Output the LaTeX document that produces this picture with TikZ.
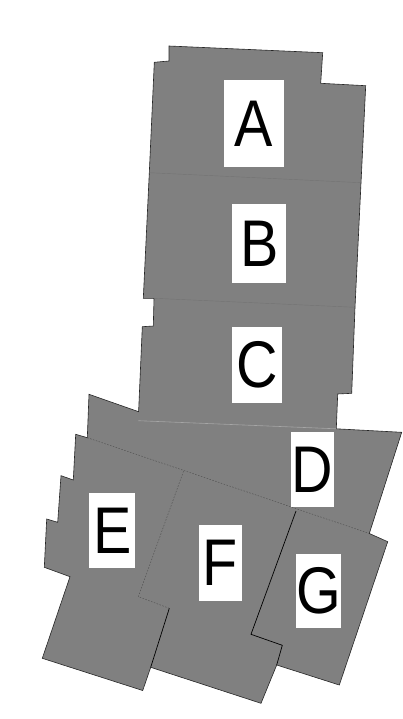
\documentclass[tikz,border=0pt]{standalone}
\usepackage{fontspec}
\setmainfont{Liberation Sans}
\begin{document}
\begin{tikzpicture}[x=1pt,y=-1pt,
  region/.style={fill=gray, draw=black!85, line width=0.6pt, line join=miter},
  seam/.style={draw=black!55, line width=0.4pt},
  lightseam/.style={draw=gray!70!white, line width=0.6pt},
  dashseam/.style={draw=black!70, line width=0.4pt, dash pattern=on 1.5pt off 1.5pt},
  wall/.style={draw=black, line width=0.7pt},
  lbl/.style={fill=white, inner sep=0pt, font=\fontsize{66}{66}\selectfont}]
\useasboundingbox (0,0) rectangle (403,719);
\fill[white] (0,0) rectangle (403,719);
% outer outline of all regions
\draw[region] (169,46) -- (322.7,52.7) -- (320.7,83.3) -- (365.7,85.7)
  -- (355,307.3) -- (351.7,393.3) -- (337.7,394) -- (336.3,428.8)
  -- (401.7,432.3) -- (369.3,533.5) -- (387.7,541.7) -- (339.3,685)
  -- (276.7,665) -- (261,703.3) -- (150.7,667.3) -- (142.7,690.5)
  -- (42.3,658.3) -- (70,576.7) -- (44.3,567.3) -- (46.7,519)
  -- (57.7,522.3) -- (61,475.7) -- (73.3,480) -- (75.7,434.3)
  -- (87.3,437.7) -- (89,394.3) -- (138.6,411.7) -- (142.3,326.7)
  -- (153.3,326) -- (154,298.3) -- (143.3,298.3) -- (149.3,172.7)
  -- (154.3,62.3) -- (169,61) -- cycle;
% seams between regions
\draw[seam] (149.3,172.7) -- (361,182.7);
\draw[seam] (154,298.3) -- (355,307.3);
\draw[lightseam] (138.3,420.7) -- (336.3,428.8);
\draw[dashseam] (87.3,437.7) -- (369.3,533.5);
\draw[dashseam] (183.5,471.2) -- (138.3,596.7) -- (169.3,608.3);
\draw[wall] (169.3,608.3) -- (150.7,667.3);
\draw[wall] (296,511) -- (251,634.3) -- (282.3,645.3) -- (276.7,665);
% labels
\node[lbl, minimum width=59.7pt, minimum height=86.7pt] (A) at (253.85,123.35) {\scalebox{0.87}[1]{A}};
\node[lbl, minimum width=54.3pt, minimum height=78.4pt] (B) at (259.15,243.5) {\scalebox{0.87}[1]{B}};
\node[lbl, minimum width=50.6pt, minimum height=76pt] (C) at (257,364.7) {\scalebox{0.87}[1]{C}};
\node[lbl, minimum width=43.3pt, minimum height=74.4pt] (D) at (312.65,469.5) {\scalebox{0.87}[1]{D}};
\node[lbl, minimum width=46pt, minimum height=75pt] (E) at (112.3,530.8) {\scalebox{0.87}[1]{E}};
\node[lbl, minimum width=42.7pt, minimum height=75.7pt] (F) at (220.35,562.85) {\scalebox{0.87}[1]{F}};
\node[lbl, minimum width=42.7pt, minimum height=74.3pt] (G) at (318.65,591.15) {\scalebox{0.87}[1]{G}};
\end{tikzpicture}
\end{document}
